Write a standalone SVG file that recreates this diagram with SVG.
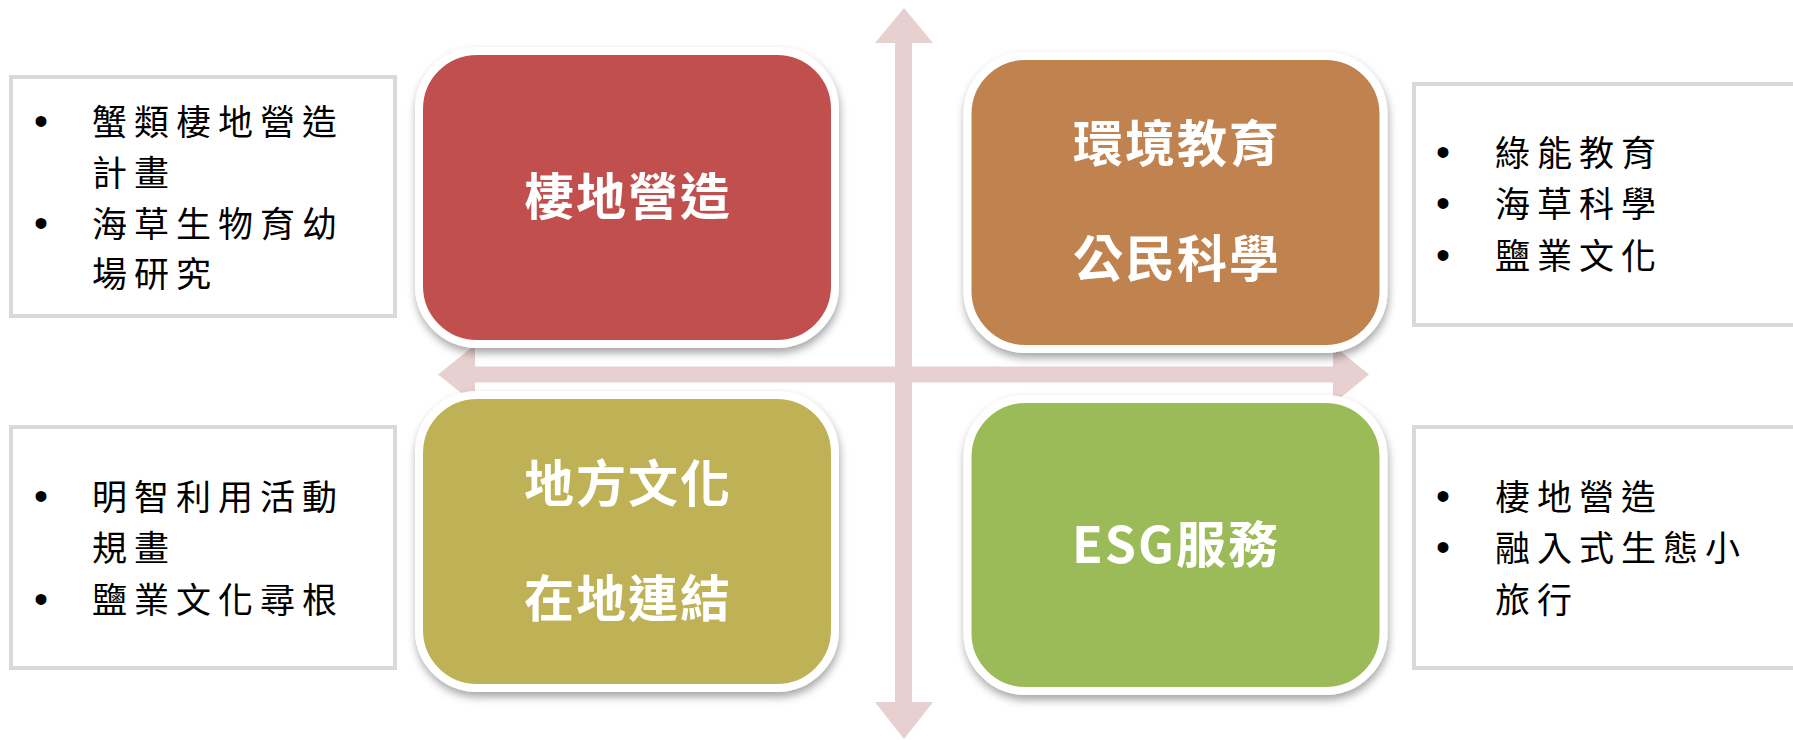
<svg xmlns="http://www.w3.org/2000/svg" width="1793" height="740" viewBox="0 0 1793 740">
<style>
.box{fill:#fff;stroke:#d9d9d9;stroke-width:4}
.node{stroke:#fff;stroke-width:8}
.ntxt{font-family:"Noto Sans CJK TC","Noto Sans CJK SC",sans-serif;font-weight:bold;font-size:50px;fill:#fff;text-anchor:middle;letter-spacing:2px}
.btxt{font-family:"Noto Sans CJK TC","Noto Sans CJK SC",sans-serif;font-size:35px;fill:#000;letter-spacing:7px}
.bul{font-family:"Liberation Sans",Arial,sans-serif;font-size:40px;letter-spacing:0}
.arrow{fill:#e8cfd0}
</style>
<defs>
<filter id="sh" x="-10%" y="-10%" width="120%" height="125%">
<feDropShadow dx="1" dy="5" stdDeviation="4" flood-color="#000" flood-opacity="0.35"/>
</filter>
</defs>
<g id="connectors">
<path class="arrow" d="M895,43 L875,43 L904,8 L933,43 L912,43 L912,702 L933,702 L904,739 L875,702 L895,702 Z"/>
<path class="arrow" d="M475,366.5 L475,345 L438,374.5 L475,404 L475,382.5 L1333,382.5 L1333,404 L1369,374.5 L1333,345 L1333,366.5 Z"/>
</g>
<g id="box-top-left">
<rect class="box" x="11" y="77" width="384" height="239"/>
<text class="btxt"><tspan class="bul" x="34" y="135">•</tspan><tspan x="92" y="135">蟹類棲地營造</tspan><tspan x="92" y="186">計畫</tspan><tspan class="bul" x="34" y="237">•</tspan><tspan x="92" y="237">海草生物育幼</tspan><tspan x="92" y="287">場研究</tspan></text>
</g>
<g id="box-bottom-left">
<rect class="box" x="11" y="427" width="384" height="241"/>
<text class="btxt"><tspan class="bul" x="34" y="510">•</tspan><tspan x="92" y="510">明智利用活動</tspan><tspan x="92" y="561">規畫</tspan><tspan class="bul" x="34" y="613">•</tspan><tspan x="92" y="613">鹽業文化尋根</tspan></text>
</g>
<g id="box-top-right">
<rect class="box" x="1414" y="84" width="400" height="241"/>
<text class="btxt"><tspan class="bul" x="1436" y="166">•</tspan><tspan x="1495" y="166">綠能教育</tspan><tspan class="bul" x="1436" y="217">•</tspan><tspan x="1495" y="217">海草科學</tspan><tspan class="bul" x="1436" y="269">•</tspan><tspan x="1495" y="269">鹽業文化</tspan></text>
</g>
<g id="box-bottom-right">
<rect class="box" x="1414" y="427" width="400" height="241"/>
<text class="btxt"><tspan class="bul" x="1436" y="510">•</tspan><tspan x="1495" y="510">棲地營造</tspan><tspan class="bul" x="1436" y="561">•</tspan><tspan x="1495" y="561">融入式生態小</tspan><tspan x="1495" y="613">旅行</tspan></text>
</g>
<g id="node-habitat">
<rect class="node" x="419" y="51" width="416" height="293" rx="58" fill="#c0504d" filter="url(#sh)"/>
<text class="ntxt" x="628" y="215">棲地營造</text>
</g>
<g id="node-education">
<rect class="node" x="967.5" y="56" width="416" height="293" rx="58" fill="#c0834f" filter="url(#sh)"/>
<text class="ntxt" x="1177" y="162">環境教育</text>
<text class="ntxt" x="1177" y="277">公民科學</text>
</g>
<g id="node-culture">
<rect class="node" x="419" y="395" width="416" height="293" rx="58" fill="#bfb256" filter="url(#sh)"/>
<text class="ntxt" x="628" y="502">地方文化</text>
<text class="ntxt" x="628" y="617">在地連結</text>
</g>
<g id="node-esg">
<rect class="node" x="967.5" y="399" width="416" height="292" rx="58" fill="#9bbb59" filter="url(#sh)"/>
<text class="ntxt" x="1176" y="563">ESG服務</text>
</g>
</svg>
